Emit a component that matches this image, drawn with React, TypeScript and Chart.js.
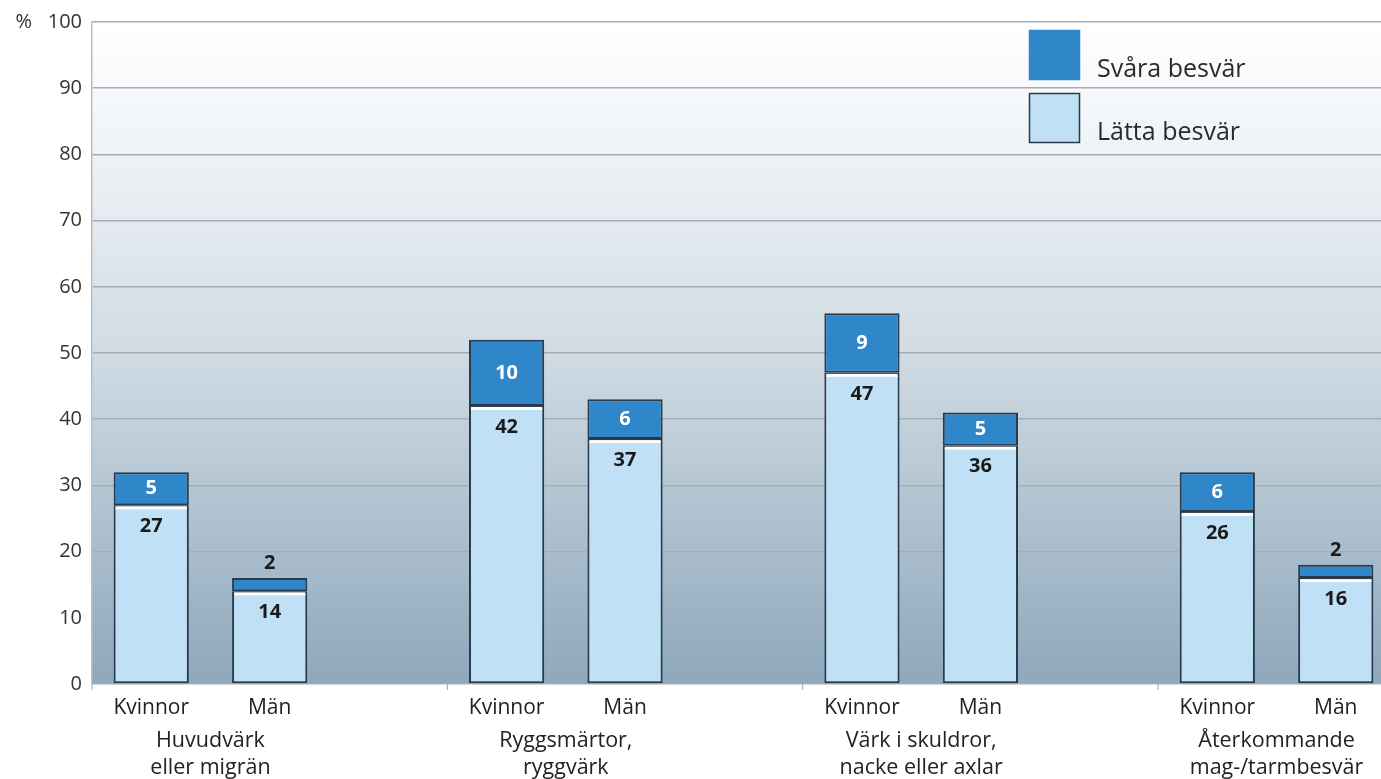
import React, { useEffect, useRef } from "react";
import { Chart, registerables } from "chart.js";

Chart.register(...registerables);

const categories = ["Kvinnor", "Män", "", "Kvinnor", "Män", "", "Kvinnor", "Män", "", "Kvinnor", "Män"];
const lattaBesvar: (number | null)[] = [27, 14, null, 42, 37, null, 47, 36, null, 26, 16];
const svaraBesvar: (number | null)[] = [5, 2, null, 10, 6, null, 9, 5, null, 6, 2];
const groupLabels = [
  ["Huvudvärk", "eller migrän"],
  ["Ryggsmärtor,", "ryggvärk"],
  ["Värk i skuldror,", "nacke eller axlar"],
  ["Återkommande", "mag-/tarmbesvär"],
];
const groupStarts = [0, 3, 6, 9];
const seriesLabels = ["Lätta besvär", "Svåra besvär"];
const yTicks = [0, 10, 20, 30, 40, 50, 60, 70, 80, 90, 100];

const FONT = "'Open Sans', 'Noto Sans', sans-serif";
const DARK = "#2f86c9";
const LIGHT = "#c0e0f5";
const EDGE = "#2a3a4a";

export default function App() {
  const ref = useRef<HTMLCanvasElement | null>(null);

  useEffect(() => {
    if (!ref.current) return;

    const bgPlugin = {
      id: "bg",
      beforeDraw(chart: any) {
        const { ctx, chartArea: a } = chart;
        const g = ctx.createLinearGradient(0, a.top, 0, a.bottom);
        g.addColorStop(0, "#ffffff");
        g.addColorStop(0.15, "#f3f6f9");
        g.addColorStop(0.5, "#d0dbe3");
        g.addColorStop(1, "#8ea8bc");
        ctx.save();
        ctx.fillStyle = g;
        ctx.fillRect(a.left, a.top, a.right - a.left, a.bottom - a.top);
        ctx.restore();
      },
    };

    const overlayPlugin = {
      id: "overlay",
      afterDatasetsDraw(chart: any) {
        const { ctx, chartArea: a } = chart;
        const xs = chart.scales.x;
        const m0 = chart.getDatasetMeta(0);
        const m1 = chart.getDatasetMeta(1);
        ctx.save();
        m0.data.forEach((el: any, i: number) => {
          if (lattaBesvar[i] == null) return;
          const w = el.width;
          ctx.fillStyle = "#ffffff";
          ctx.fillRect(el.x - w / 2 + 2, el.y + 1, w - 4, 3);
        });
        ctx.textAlign = "center";
        ctx.textBaseline = "middle";
        ctx.font = `bold 20px ${FONT}`;
        m0.data.forEach((el: any, i: number) => {
          const v = lattaBesvar[i];
          if (v == null) return;
          ctx.fillStyle = "#1a1a1a";
          ctx.fillText(String(v), el.x, el.y + 21);
        });
        m1.data.forEach((el: any, i: number) => {
          const v = svaraBesvar[i];
          if (v == null) return;
          const h = el.base - el.y;
          if (h > 20) {
            ctx.fillStyle = "#ffffff";
            ctx.fillText(String(v), el.x, (el.y + el.base) / 2);
          } else {
            ctx.fillStyle = "#1a1a1a";
            ctx.fillText(String(v), el.x, el.y - 15);
          }
        });
        ctx.font = `21.5px ${FONT}`;
        ctx.fillStyle = "#222222";
        groupStarts.forEach((s, gi) => {
          const cx = (xs.getPixelForValue(s) + xs.getPixelForValue(s + 1)) / 2;
          groupLabels[gi].forEach((line, li) => {
            ctx.fillText(line, cx, 741 + li * 27);
          });
          const tx = s === 0 ? a.left : (xs.getPixelForValue(s) + xs.getPixelForValue(s - 1)) / 2;
          ctx.strokeStyle = "#9aa4ae";
          ctx.lineWidth = 1;
          ctx.beginPath();
          ctx.moveTo(tx, a.bottom);
          ctx.lineTo(tx, a.bottom + 6);
          ctx.stroke();
        });
        const items = [
          { label: seriesLabels[1], color: DARK, border: DARK, y: 30 },
          { label: seriesLabels[0], color: LIGHT, border: EDGE, y: 93 },
        ];
        ctx.textAlign = "left";
        ctx.font = `25px ${FONT}`;
        items.forEach((it) => {
          ctx.fillStyle = it.color;
          ctx.fillRect(1029, it.y, 51, 50);
          ctx.strokeStyle = it.border;
          ctx.lineWidth = 1.5;
          ctx.strokeRect(1029.5, it.y + 0.5, 50, 49);
          ctx.fillStyle = "#2a2a2a";
          ctx.fillText(it.label, 1097, it.y + 40);
        });
        ctx.restore();
      },
    };

    const chart = new Chart(ref.current, {
      type: "bar",
      data: {
        labels: categories,
        datasets: [
          {
            label: seriesLabels[0],
            data: lattaBesvar,
            backgroundColor: LIGHT,
            borderColor: EDGE,
            borderWidth: 2,
            borderSkipped: false,
            barPercentage: 0.635,
            categoryPercentage: 1,
          },
          {
            label: seriesLabels[1],
            data: svaraBesvar,
            backgroundColor: DARK,
            borderColor: EDGE,
            borderWidth: 2,
            borderSkipped: false,
            barPercentage: 0.635,
            categoryPercentage: 1,
          },
        ],
      },
      options: {
        responsive: false,
        animation: false,
        devicePixelRatio: 1,
        layout: { padding: { left: 0, top: 19, right: 5, bottom: 0 } },
        plugins: {
          legend: { display: false },
          tooltip: { enabled: false },
        },
        scales: {
          x: {
            stacked: true,
            grid: { display: false },
            border: { display: false },
            ticks: {
              color: "#222222",
              font: { family: FONT, size: 21 },
              padding: 3,
              maxRotation: 0,
              autoSkip: false,
            },
            afterFit(scale: any) {
              scale.height = 95;
            },
          },
          y: {
            stacked: true,
            min: 0,
            max: 100,
            afterBuildTicks(scale: any) {
              scale.ticks = yTicks.map((v) => ({ value: v }));
            },
            ticks: {
              color: "#333333",
              font: { family: FONT, size: 20 },
              padding: 10,
              callback: (v: any) => (v === 100 ? "%   100" : String(v)),
            },
            grid: {
              color: "#a3adb7",
              lineWidth: 1.5,
              drawTicks: false,
            },
            border: { display: true, color: "#b8c0c8", width: 1.5 },
            afterFit(scale: any) {
              scale.width = 92;
            },
          },
        },
      },
      plugins: [bgPlugin, overlayPlugin],
    });
    return () => chart.destroy();
  }, []);

  return (
    <div
      style={{
        position: "fixed",
        left: 0,
        top: 0,
        width: 1381,
        height: 779,
        overflow: "hidden",
        background: "#ffffff",
      }}
    >
      <canvas ref={ref} width={1400} height={779} style={{ display: "block" }} />
    </div>
  );
}
